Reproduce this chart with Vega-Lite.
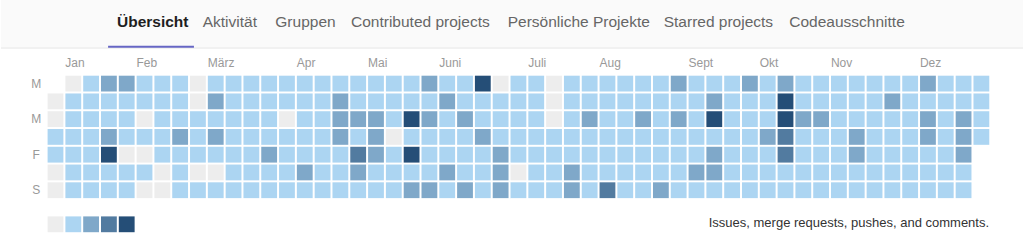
{
"$schema": "https://vega.github.io/schema/vega-lite/v6.json",
"width": 1024, "height": 242,
"autosize": {"type": "fit", "contains": "padding"},
"padding": 0,
"background": "#ffffff",
"config": {"view": {"stroke": null}, "font": "Liberation Sans"},
"datasets": {
"cells": [
{"w":0,"d":1,"c":0},{"w":0,"d":2,"c":0},{"w":0,"d":3,"c":1},{"w":0,"d":4,"c":1},{"w":0,"d":5,"c":0},{"w":0,"d":6,"c":0},
{"w":1,"d":0,"c":0},{"w":1,"d":1,"c":1},{"w":1,"d":2,"c":1},{"w":1,"d":3,"c":1},{"w":1,"d":4,"c":1},{"w":1,"d":5,"c":1},{"w":1,"d":6,"c":1},
{"w":2,"d":0,"c":1},{"w":2,"d":1,"c":1},{"w":2,"d":2,"c":1},{"w":2,"d":3,"c":1},{"w":2,"d":4,"c":1},{"w":2,"d":5,"c":1},{"w":2,"d":6,"c":1},
{"w":3,"d":0,"c":2},{"w":3,"d":1,"c":1},{"w":3,"d":2,"c":1},{"w":3,"d":3,"c":2},{"w":3,"d":4,"c":4},{"w":3,"d":5,"c":1},{"w":3,"d":6,"c":1},
{"w":4,"d":0,"c":2},{"w":4,"d":1,"c":1},{"w":4,"d":2,"c":1},{"w":4,"d":3,"c":1},{"w":4,"d":4,"c":0},{"w":4,"d":5,"c":1},{"w":4,"d":6,"c":1},
{"w":5,"d":0,"c":1},{"w":5,"d":1,"c":1},{"w":5,"d":2,"c":0},{"w":5,"d":3,"c":1},{"w":5,"d":4,"c":0},{"w":5,"d":5,"c":1},{"w":5,"d":6,"c":0},
{"w":6,"d":0,"c":1},{"w":6,"d":1,"c":1},{"w":6,"d":2,"c":1},{"w":6,"d":3,"c":1},{"w":6,"d":4,"c":1},{"w":6,"d":5,"c":0},{"w":6,"d":6,"c":0},
{"w":7,"d":0,"c":1},{"w":7,"d":1,"c":1},{"w":7,"d":2,"c":1},{"w":7,"d":3,"c":2},{"w":7,"d":4,"c":1},{"w":7,"d":5,"c":1},{"w":7,"d":6,"c":1},
{"w":8,"d":0,"c":0},{"w":8,"d":1,"c":0},{"w":8,"d":2,"c":1},{"w":8,"d":3,"c":1},{"w":8,"d":4,"c":1},{"w":8,"d":5,"c":0},{"w":8,"d":6,"c":1},
{"w":9,"d":0,"c":1},{"w":9,"d":1,"c":2},{"w":9,"d":2,"c":1},{"w":9,"d":3,"c":2},{"w":9,"d":4,"c":1},{"w":9,"d":5,"c":0},{"w":9,"d":6,"c":1},
{"w":10,"d":0,"c":1},{"w":10,"d":1,"c":1},{"w":10,"d":2,"c":1},{"w":10,"d":3,"c":1},{"w":10,"d":4,"c":1},{"w":10,"d":5,"c":1},{"w":10,"d":6,"c":1},
{"w":11,"d":0,"c":1},{"w":11,"d":1,"c":1},{"w":11,"d":2,"c":1},{"w":11,"d":3,"c":1},{"w":11,"d":4,"c":1},{"w":11,"d":5,"c":1},{"w":11,"d":6,"c":1},
{"w":12,"d":0,"c":1},{"w":12,"d":1,"c":1},{"w":12,"d":2,"c":1},{"w":12,"d":3,"c":1},{"w":12,"d":4,"c":2},{"w":12,"d":5,"c":1},{"w":12,"d":6,"c":1},
{"w":13,"d":0,"c":1},{"w":13,"d":1,"c":1},{"w":13,"d":2,"c":0},{"w":13,"d":3,"c":1},{"w":13,"d":4,"c":1},{"w":13,"d":5,"c":1},{"w":13,"d":6,"c":1},
{"w":14,"d":0,"c":1},{"w":14,"d":1,"c":1},{"w":14,"d":2,"c":1},{"w":14,"d":3,"c":1},{"w":14,"d":4,"c":1},{"w":14,"d":5,"c":2},{"w":14,"d":6,"c":1},
{"w":15,"d":0,"c":1},{"w":15,"d":1,"c":1},{"w":15,"d":2,"c":1},{"w":15,"d":3,"c":1},{"w":15,"d":4,"c":1},{"w":15,"d":5,"c":1},{"w":15,"d":6,"c":1},
{"w":16,"d":0,"c":1},{"w":16,"d":1,"c":2},{"w":16,"d":2,"c":2},{"w":16,"d":3,"c":2},{"w":16,"d":4,"c":1},{"w":16,"d":5,"c":1},{"w":16,"d":6,"c":1},
{"w":17,"d":0,"c":1},{"w":17,"d":1,"c":1},{"w":17,"d":2,"c":2},{"w":17,"d":3,"c":1},{"w":17,"d":4,"c":3},{"w":17,"d":5,"c":2},{"w":17,"d":6,"c":1},
{"w":18,"d":0,"c":1},{"w":18,"d":1,"c":1},{"w":18,"d":2,"c":2},{"w":18,"d":3,"c":2},{"w":18,"d":4,"c":2},{"w":18,"d":5,"c":1},{"w":18,"d":6,"c":1},
{"w":19,"d":0,"c":1},{"w":19,"d":1,"c":1},{"w":19,"d":2,"c":1},{"w":19,"d":3,"c":0},{"w":19,"d":4,"c":1},{"w":19,"d":5,"c":1},{"w":19,"d":6,"c":1},
{"w":20,"d":0,"c":1},{"w":20,"d":1,"c":1},{"w":20,"d":2,"c":4},{"w":20,"d":3,"c":1},{"w":20,"d":4,"c":4},{"w":20,"d":5,"c":1},{"w":20,"d":6,"c":2},
{"w":21,"d":0,"c":2},{"w":21,"d":1,"c":1},{"w":21,"d":2,"c":2},{"w":21,"d":3,"c":1},{"w":21,"d":4,"c":1},{"w":21,"d":5,"c":1},{"w":21,"d":6,"c":2},
{"w":22,"d":0,"c":1},{"w":22,"d":1,"c":2},{"w":22,"d":2,"c":1},{"w":22,"d":3,"c":1},{"w":22,"d":4,"c":1},{"w":22,"d":5,"c":2},{"w":22,"d":6,"c":1},
{"w":23,"d":0,"c":1},{"w":23,"d":1,"c":1},{"w":23,"d":2,"c":2},{"w":23,"d":3,"c":1},{"w":23,"d":4,"c":1},{"w":23,"d":5,"c":1},{"w":23,"d":6,"c":2},
{"w":24,"d":0,"c":4},{"w":24,"d":1,"c":1},{"w":24,"d":2,"c":1},{"w":24,"d":3,"c":2},{"w":24,"d":4,"c":1},{"w":24,"d":5,"c":1},{"w":24,"d":6,"c":1},
{"w":25,"d":0,"c":0},{"w":25,"d":1,"c":1},{"w":25,"d":2,"c":1},{"w":25,"d":3,"c":1},{"w":25,"d":4,"c":2},{"w":25,"d":5,"c":2},{"w":25,"d":6,"c":2},
{"w":26,"d":0,"c":1},{"w":26,"d":1,"c":1},{"w":26,"d":2,"c":1},{"w":26,"d":3,"c":1},{"w":26,"d":4,"c":1},{"w":26,"d":5,"c":0},{"w":26,"d":6,"c":1},
{"w":27,"d":0,"c":1},{"w":27,"d":1,"c":1},{"w":27,"d":2,"c":1},{"w":27,"d":3,"c":1},{"w":27,"d":4,"c":1},{"w":27,"d":5,"c":1},{"w":27,"d":6,"c":1},
{"w":28,"d":0,"c":0},{"w":28,"d":1,"c":0},{"w":28,"d":2,"c":0},{"w":28,"d":3,"c":1},{"w":28,"d":4,"c":1},{"w":28,"d":5,"c":1},{"w":28,"d":6,"c":1},
{"w":29,"d":0,"c":1},{"w":29,"d":1,"c":1},{"w":29,"d":2,"c":1},{"w":29,"d":3,"c":1},{"w":29,"d":4,"c":1},{"w":29,"d":5,"c":2},{"w":29,"d":6,"c":2},
{"w":30,"d":0,"c":1},{"w":30,"d":1,"c":1},{"w":30,"d":2,"c":2},{"w":30,"d":3,"c":1},{"w":30,"d":4,"c":1},{"w":30,"d":5,"c":1},{"w":30,"d":6,"c":1},
{"w":31,"d":0,"c":1},{"w":31,"d":1,"c":1},{"w":31,"d":2,"c":1},{"w":31,"d":3,"c":1},{"w":31,"d":4,"c":1},{"w":31,"d":5,"c":1},{"w":31,"d":6,"c":3},
{"w":32,"d":0,"c":1},{"w":32,"d":1,"c":1},{"w":32,"d":2,"c":1},{"w":32,"d":3,"c":1},{"w":32,"d":4,"c":1},{"w":32,"d":5,"c":1},{"w":32,"d":6,"c":1},
{"w":33,"d":0,"c":1},{"w":33,"d":1,"c":1},{"w":33,"d":2,"c":2},{"w":33,"d":3,"c":1},{"w":33,"d":4,"c":1},{"w":33,"d":5,"c":1},{"w":33,"d":6,"c":1},
{"w":34,"d":0,"c":1},{"w":34,"d":1,"c":1},{"w":34,"d":2,"c":1},{"w":34,"d":3,"c":1},{"w":34,"d":4,"c":1},{"w":34,"d":5,"c":1},{"w":34,"d":6,"c":2},
{"w":35,"d":0,"c":2},{"w":35,"d":1,"c":1},{"w":35,"d":2,"c":2},{"w":35,"d":3,"c":1},{"w":35,"d":4,"c":1},{"w":35,"d":5,"c":1},{"w":35,"d":6,"c":1},
{"w":36,"d":0,"c":1},{"w":36,"d":1,"c":1},{"w":36,"d":2,"c":1},{"w":36,"d":3,"c":1},{"w":36,"d":4,"c":1},{"w":36,"d":5,"c":2},{"w":36,"d":6,"c":1},
{"w":37,"d":0,"c":1},{"w":37,"d":1,"c":2},{"w":37,"d":2,"c":4},{"w":37,"d":3,"c":1},{"w":37,"d":4,"c":2},{"w":37,"d":5,"c":2},{"w":37,"d":6,"c":1},
{"w":38,"d":0,"c":1},{"w":38,"d":1,"c":1},{"w":38,"d":2,"c":1},{"w":38,"d":3,"c":1},{"w":38,"d":4,"c":1},{"w":38,"d":5,"c":1},{"w":38,"d":6,"c":1},
{"w":39,"d":0,"c":2},{"w":39,"d":1,"c":1},{"w":39,"d":2,"c":1},{"w":39,"d":3,"c":1},{"w":39,"d":4,"c":1},{"w":39,"d":5,"c":1},{"w":39,"d":6,"c":1},
{"w":40,"d":0,"c":1},{"w":40,"d":1,"c":1},{"w":40,"d":2,"c":1},{"w":40,"d":3,"c":2},{"w":40,"d":4,"c":1},{"w":40,"d":5,"c":1},{"w":40,"d":6,"c":1},
{"w":41,"d":0,"c":2},{"w":41,"d":1,"c":4},{"w":41,"d":2,"c":4},{"w":41,"d":3,"c":3},{"w":41,"d":4,"c":3},{"w":41,"d":5,"c":1},{"w":41,"d":6,"c":1},
{"w":42,"d":0,"c":1},{"w":42,"d":1,"c":1},{"w":42,"d":2,"c":2},{"w":42,"d":3,"c":1},{"w":42,"d":4,"c":1},{"w":42,"d":5,"c":1},{"w":42,"d":6,"c":1},
{"w":43,"d":0,"c":1},{"w":43,"d":1,"c":1},{"w":43,"d":2,"c":2},{"w":43,"d":3,"c":1},{"w":43,"d":4,"c":1},{"w":43,"d":5,"c":1},{"w":43,"d":6,"c":1},
{"w":44,"d":0,"c":1},{"w":44,"d":1,"c":1},{"w":44,"d":2,"c":1},{"w":44,"d":3,"c":1},{"w":44,"d":4,"c":1},{"w":44,"d":5,"c":1},{"w":44,"d":6,"c":1},
{"w":45,"d":0,"c":1},{"w":45,"d":1,"c":1},{"w":45,"d":2,"c":1},{"w":45,"d":3,"c":2},{"w":45,"d":4,"c":2},{"w":45,"d":5,"c":1},{"w":45,"d":6,"c":1},
{"w":46,"d":0,"c":1},{"w":46,"d":1,"c":1},{"w":46,"d":2,"c":1},{"w":46,"d":3,"c":1},{"w":46,"d":4,"c":1},{"w":46,"d":5,"c":1},{"w":46,"d":6,"c":1},
{"w":47,"d":0,"c":1},{"w":47,"d":1,"c":2},{"w":47,"d":2,"c":1},{"w":47,"d":3,"c":1},{"w":47,"d":4,"c":1},{"w":47,"d":5,"c":1},{"w":47,"d":6,"c":1},
{"w":48,"d":0,"c":1},{"w":48,"d":1,"c":1},{"w":48,"d":2,"c":1},{"w":48,"d":3,"c":1},{"w":48,"d":4,"c":1},{"w":48,"d":5,"c":1},{"w":48,"d":6,"c":1},
{"w":49,"d":0,"c":2},{"w":49,"d":1,"c":1},{"w":49,"d":2,"c":2},{"w":49,"d":3,"c":2},{"w":49,"d":4,"c":1},{"w":49,"d":5,"c":1},{"w":49,"d":6,"c":1},
{"w":50,"d":0,"c":1},{"w":50,"d":1,"c":1},{"w":50,"d":2,"c":1},{"w":50,"d":3,"c":1},{"w":50,"d":4,"c":1},{"w":50,"d":5,"c":1},{"w":50,"d":6,"c":1},
{"w":51,"d":0,"c":1},{"w":51,"d":1,"c":1},{"w":51,"d":2,"c":2},{"w":51,"d":3,"c":2},{"w":51,"d":4,"c":2},{"w":51,"d":5,"c":1},{"w":51,"d":6,"c":1},
{"w":52,"d":0,"c":1},{"w":52,"d":1,"c":1},{"w":52,"d":2,"c":1},{"w":52,"d":3,"c":1}
],
"months": [
{"m":"Jan","w":1},{"m":"Feb","w":5},{"m":"März","w":9},{"m":"Apr","w":14},{"m":"Mai","w":18},{"m":"Juni","w":22},
{"m":"Juli","w":27},{"m":"Aug","w":31},{"m":"Sept","w":36},{"m":"Okt","w":40},{"m":"Nov","w":44},{"m":"Dez","w":49}
],
"days": [{"t":"M","d":0},{"t":"M","d":2},{"t":"F","d":4},{"t":"S","d":6}],
"levels": [{"c":0},{"c":1},{"c":2},{"c":3},{"c":4}],
"tabs": [
{"t":"Übersicht","i":0},{"t":"Aktivität","i":1},{"t":"Gruppen","i":2},{"t":"Contributed projects","i":3},
{"t":"Persönliche Projekte","i":4},{"t":"Starred projects","i":5},{"t":"Codeausschnitte","i":6}
]
},
"resolve": {"scale": {"x": "independent"}},
"layer": [
{
"layer": [
{
"data": {"values": [{}]},
"mark": {"type": "rect", "fill": "#fafafa"},
"encoding": {
"x": {"datum": -3.0605, "type": "quantitative", "scale": {"domain": [-3.0605, 54.338], "nice": false, "zero": false}, "axis": null},
"x2": {"datum": 54.338},
"y": {"datum": -4.7046, "type": "quantitative", "scale": {"domain": [-4.7046, 8.9139], "nice": false, "zero": false, "reverse": true}, "axis": null},
"y2": {"datum": -2.031}
}
},
{
"data": {"values": [{}]},
"mark": {"type": "rule", "stroke": "#e5e5e5", "strokeWidth": 1},
"encoding": {
"x": {"datum": -3.0605, "type": "quantitative", "scale": {"domain": [-3.0605, 54.338], "nice": false, "zero": false}, "axis": null},
"x2": {"datum": 54.338},
"y": {"datum": -2.0, "type": "quantitative", "axis": null}
}
},
{
"data": {"values": [{}]},
"mark": {"type": "rule", "stroke": "#6666c4", "strokeWidth": 2},
"encoding": {
"x": {"datum": 2.954, "type": "quantitative", "scale": {"domain": [-3.0605, 54.338], "nice": false, "zero": false}, "axis": null},
"x2": {"datum": 7.775},
"y": {"datum": -2.077, "type": "quantitative", "axis": null}
}
},
{
"data": {"name": "months"},
"mark": {"type": "text", "align": "left", "baseline": "alphabetic", "dx": -8, "fontSize": 12, "fill": "#999999"},
"encoding": {
"x": {"field": "w", "type": "quantitative", "scale": {"domain": [-3.0605, 54.338], "nice": false, "zero": false}, "axis": null},
"y": {"datum": -0.917, "type": "quantitative", "axis": null},
"text": {"field": "m"}
}
},
{
"data": {"name": "days"},
"mark": {"type": "text", "align": "center", "baseline": "middle", "fontSize": 12, "fill": "#999999"},
"encoding": {
"x": {"datum": -1.08, "type": "quantitative", "scale": {"domain": [-3.0605, 54.338], "nice": false, "zero": false}, "axis": null},
"y": {"field": "d", "type": "quantitative", "axis": null},
"text": {"field": "t"}
}
},
{
"data": {"name": "cells"},
"mark": {"type": "square", "size": 250, "opacity": 1, "filled": true},
"encoding": {
"x": {"field": "w", "type": "quantitative", "scale": {"domain": [-3.0605, 54.338], "nice": false, "zero": false}, "axis": null},
"y": {"field": "d", "type": "quantitative", "axis": null},
"color": {"field": "c", "type": "ordinal", "scale": {"domain": [0, 1, 2, 3, 4], "range": ["#ededed", "#acd5f2", "#7fa8c9", "#527ba0", "#254e77"]}, "legend": null}
}
},
{
"data": {"name": "levels"},
"mark": {"type": "square", "size": 250, "opacity": 1, "filled": true},
"encoding": {
"x": {"field": "c", "type": "quantitative", "scale": {"domain": [-3.0605, 54.338], "nice": false, "zero": false}, "axis": null},
"y": {"datum": 7.918, "type": "quantitative", "axis": null},
"color": {"field": "c", "type": "ordinal", "legend": null}
}
},
{
"data": {"values": [{"t": "Issues, merge requests, pushes, and comments."}]},
"mark": {"type": "text", "align": "right", "baseline": "middle", "fontSize": 13, "fill": "#333333"},
"encoding": {
"x": {"datum": 52.433, "type": "quantitative", "scale": {"domain": [-3.0605, 54.338], "nice": false, "zero": false}, "axis": null},
"y": {"datum": 7.845, "type": "quantitative", "axis": null},
"text": {"field": "t"}
}
}
]
},
{
"data": {"name": "tabs"},
"layer": [
{
"transform": [{"filter": "datum.i == 0"}],
"mark": {"type": "text", "align": "left", "baseline": "alphabetic", "fontSize": 15.5, "fontWeight": "bold", "fill": "#1f1f1f"},
"encoding": {
"x": {"field": "i", "type": "quantitative", "scale": {"domain": [0, 1, 2, 3, 4, 5, 6], "range": [116, 201.7, 274.3, 350, 506.7, 662.7, 788.3]}, "axis": null},
"y": {"datum": -3.202, "type": "quantitative", "axis": null},
"text": {"field": "t"}
}
},
{
"transform": [{"filter": "datum.i > 0"}],
"mark": {"type": "text", "align": "left", "baseline": "alphabetic", "fontSize": 15.5, "fill": "#666666"},
"encoding": {
"x": {"field": "i", "type": "quantitative", "scale": {"domain": [0, 1, 2, 3, 4, 5, 6], "range": [116, 201.7, 274.3, 350, 506.7, 662.7, 788.3]}, "axis": null},
"y": {"datum": -3.202, "type": "quantitative", "axis": null},
"text": {"field": "t"}
}
}
]
}
]
}
